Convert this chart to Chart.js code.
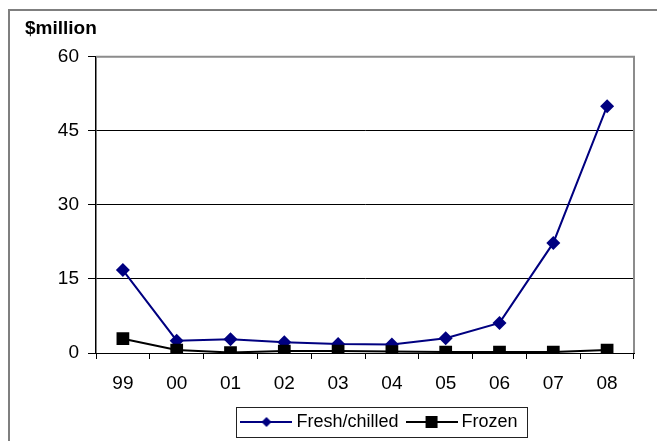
<!DOCTYPE html>
<html>
<head>
<meta charset="utf-8">
<script src="https://cdn.jsdelivr.net/npm/chart.js@4/dist/chart.umd.min.js"></script>
<style>
  body { margin: 0; background: #fff; }
  canvas { display: block; }
</style>
</head>
<body>
<canvas id="chart" width="657" height="441"></canvas>
<script>
// years on the x axis
const years = ["99", "00", "01", "02", "03", "04", "05", "06", "07", "08"];
// values in $million
const freshChilled = [16.8, 2.5, 2.8, 2.2, 1.8, 1.7, 3.0, 6.1, 22.3, 50.0];
const frozen = [2.9, 0.6, 0.1, 0.4, 0.4, 0.3, 0.2, 0.2, 0.2, 0.6];
const yTicks = [0, 15, 30, 45, 60];

const navy = '#000080';
const fontFamily = '"Liberation Sans", Arial, sans-serif';
const legendShift = 52;

// little picture for the legend: line with the marker in the middle
function legendImage(color, shape) {
    let c = document.createElement('canvas');
    c.width = 52;
    c.height = 16;
    let ctx = c.getContext('2d');
    ctx.strokeStyle = color;
    ctx.fillStyle = color;
    ctx.lineWidth = 2;
    ctx.beginPath();
    ctx.moveTo(0, 8);
    ctx.lineTo(52, 8);
    ctx.stroke();
    ctx.beginPath();
    if (shape == 'diamond') {
        ctx.moveTo(26, 3);
        ctx.lineTo(31, 8);
        ctx.lineTo(26, 13);
        ctx.lineTo(21, 8);
        ctx.closePath();
    } else {
        ctx.rect(20, 2, 12, 12);
    }
    ctx.fill();
    return c;
}

let legendMoved = false;
const frames = {
    id: 'frames',
    beforeDraw(chart) {
        // legend sits a bit right of the middle in the original
        if (!legendMoved) {
            chart.legend.left += legendShift;
            chart.legend.right += legendShift;
            legendMoved = true;
        }
        let ctx = chart.ctx;
        ctx.save();
        ctx.strokeStyle = '#7f7f7f';
        ctx.lineWidth = 2;
        ctx.beginPath();
        ctx.moveTo(9, 441);
        ctx.lineTo(9, 10);
        ctx.lineTo(657, 10);
        ctx.stroke();
        ctx.restore();
    },
    afterDraw(chart) {
        let ctx = chart.ctx;
        let a = chart.chartArea;
        ctx.save();
        ctx.strokeStyle = '#8c8c8c';
        ctx.lineWidth = 2;
        ctx.beginPath();
        ctx.moveTo(a.left, a.top);
        ctx.lineTo(a.right, a.top);
        ctx.lineTo(a.right, a.bottom);
        ctx.stroke();
        // box around the legend, sized from the label texts
        let lg = chart.legend;
        let lab = lg.options.labels;
        ctx.font = '18px ' + fontFamily;
        let total = 0;
        lg.legendItems.forEach((item, i) => {
            total += lab.pointStyleWidth + 9 + ctx.measureText(item.text).width;
            if (i > 0) total += lab.padding;
        });
        let cx = (lg.left + lg.right) / 2;
        let x0 = cx - total / 2 - 9;
        let x1 = cx + total / 2 + 10;
        let yc = (lg.top + lg.bottom) / 2 + 1;
        ctx.strokeStyle = '#222';
        ctx.lineWidth = 1;
        ctx.strokeRect(Math.round(x0) + 0.5, Math.round(yc - 15) + 0.5, Math.round(x1 - x0), 30);
        ctx.restore();
    }
};

const chart = new Chart(document.getElementById('chart'), {
    type: 'line',
    data: {
        labels: years,
        datasets: [{
            label: 'Fresh/chilled',
            data: freshChilled,
            borderColor: navy,
            backgroundColor: navy,
            borderWidth: 2,
            pointStyle: 'rectRot',
            pointRadius: 7,
            pointBorderWidth: 0,
            tension: 0,
            order: 2
        }, {
            label: 'Frozen',
            data: frozen,
            borderColor: '#000',
            backgroundColor: '#000',
            borderWidth: 2,
            pointStyle: 'rect',
            pointRadius: 9,
            pointBorderWidth: 0,
            tension: 0,
            order: 1
        }]
    },
    options: {
        responsive: false,
        animation: false,
        layout: {
            padding: { left: 25, right: 23, top: 17, bottom: 0 }
        },
        scales: {
            x: {
                offset: true,
                grid: {
                    offset: true,
                    drawOnChartArea: false,
                    drawTicks: true,
                    tickLength: 6,
                    color: '#000'
                },
                border: { color: '#000', width: 1 },
                ticks: {
                    color: '#000',
                    font: { family: fontFamily, size: 19 },
                    padding: 13,
                    maxRotation: 0
                },
                afterFit(scale) { scale.height = 48; }
            },
            y: {
                min: 0,
                max: 60,
                afterBuildTicks(scale) { scale.ticks = yTicks.map(v => ({ value: v })); },
                grid: {
                    color: ctx => (ctx.tick && ctx.tick.value == 60) ? '#8c8c8c' : '#000',
                    lineWidth: 1,
                    tickLength: 8,
                    tickColor: '#000'
                },
                border: { color: '#000', width: 1.5 },
                ticks: {
                    color: '#000',
                    font: { family: fontFamily, size: 19 },
                    padding: 9
                },
                afterFit(scale) { scale.width = 71; }
            }
        },
        plugins: {
            title: {
                display: true,
                text: '$million',
                align: 'start',
                color: '#000',
                font: { family: fontFamily, size: 19, weight: 'bold' },
                padding: { top: 0, bottom: 17 }
            },
            legend: {
                position: 'bottom',
                labels: {
                    usePointStyle: true,
                    pointStyleWidth: 42,
                    color: '#000',
                    font: { family: fontFamily, size: 18 },
                    padding: 12,
                    sort: (a, b) => a.datasetIndex - b.datasetIndex,
                    generateLabels(chart) {
                        return chart.data.datasets.map((ds, i) => ({
                            text: ds.label,
                            datasetIndex: i,
                            fontColor: '#000',
                            lineWidth: 0,
                            pointStyle: legendImage(ds.borderColor, i == 0 ? 'diamond' : 'square')
                        }));
                    }
                }
            },
            tooltip: { enabled: false }
        }
    },
    plugins: [frames]
});
</script>
</body>
</html>
